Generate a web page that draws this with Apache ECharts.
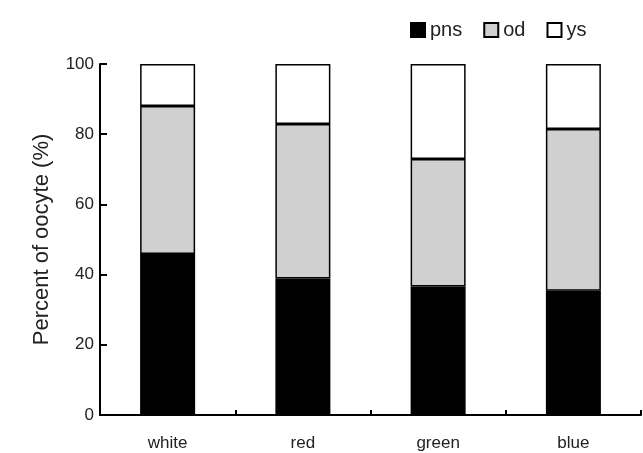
<!DOCTYPE html>
<html>
<head>
<meta charset="utf-8">
<script src="https://cdn.jsdelivr.net/npm/echarts@6/dist/echarts.min.js"></script>
<style>
html,body{margin:0;padding:0;background:#fff;}
#c{width:643px;height:453px;}
</style>
</head>
<body>
<div id="c"></div>
<script>
var categories = ['white', 'red', 'green', 'blue'];
var pns = [45.9, 38.9, 36.6, 35.4];
var od = [42.1, 44.0, 36.3, 46.1];
var ys = [12.0, 17.1, 27.1, 18.5];
var yTicks = [0, 20, 40, 60, 80, 100];

var chart = echarts.init(document.getElementById('c'));
var font = 'Liberation Sans, Arial, sans-serif';
function barSeries(name, data, fill) {
  return {
    name: name, type: 'bar', stack: 'total', data: data,
    barWidth: 55,
    itemStyle: { color: fill, borderColor: '#000', borderWidth: 1.5 },
    emphasis: { disabled: true }
  };
}
var yMin = yTicks[0], yMax = yTicks[yTicks.length - 1];
chart.setOption({
  animation: false,
  textStyle: { fontFamily: font },
  legend: {
    left: 405, top: 15,
    itemWidth: 14, itemHeight: 14, itemGap: 21,
    icon: 'rect',
    textStyle: { fontSize: 20, color: '#222', fontFamily: font },
    data: ['pns', 'od', 'ys']
  },
  grid: [
    { left: 100, right: 2, top: 64, bottom: 38, containLabel: false },
    { left: 100, width: 7, top: 64, bottom: 38, containLabel: false }
  ],
  xAxis: [{
    type: 'category', data: categories,
    axisLine: { lineStyle: { color: '#000', width: 2 } },
    axisTick: { show: false },
    axisLabel: { fontSize: 17, color: '#222', margin: 20, fontFamily: font }
  }, {
    type: 'category', data: categories, position: 'bottom', offset: -5,
    axisLine: { show: false },
    axisTick: { show: true, length: 5, lineStyle: { color: '#000', width: 2 } },
    axisLabel: { show: false }
  }, {
    type: 'value', gridIndex: 1, min: 0, max: 1, show: false
  }],
  yAxis: [{
    type: 'value', min: yMin, max: yMax, interval: 20,
    name: 'Percent of oocyte (%)', nameLocation: 'middle', nameGap: 47,
    nameTextStyle: { fontSize: 22, color: '#222', fontFamily: font },
    axisLine: { show: true, lineStyle: { color: '#000', width: 2 } },
    axisTick: { show: false },
    axisLabel: { fontSize: 17, color: '#222', margin: 6, fontFamily: font },
    splitLine: { show: false }
  }, {
    type: 'value', gridIndex: 1, min: yMin, max: yMax, interval: 20,
    axisLine: { show: false },
    axisTick: { show: false },
    axisLabel: { show: false },
    splitLine: { show: true, lineStyle: { color: '#000', width: 2, type: 'solid' } }
  }, {
    type: 'category', data: yTicks, boundaryGap: false, position: 'left', offset: -6,
    axisLine: { show: false },
    axisTick: { show: true, length: 6, lineStyle: { color: '#000', width: 2 } },
    axisLabel: { show: false },
    splitLine: { show: false }
  }],
  series: [
    barSeries('pns', pns, '#000000'),
    barSeries('od', od, '#d0d0d0'),
    barSeries('ys', ys, '#ffffff')
  ]
});
</script>
</body>
</html>
